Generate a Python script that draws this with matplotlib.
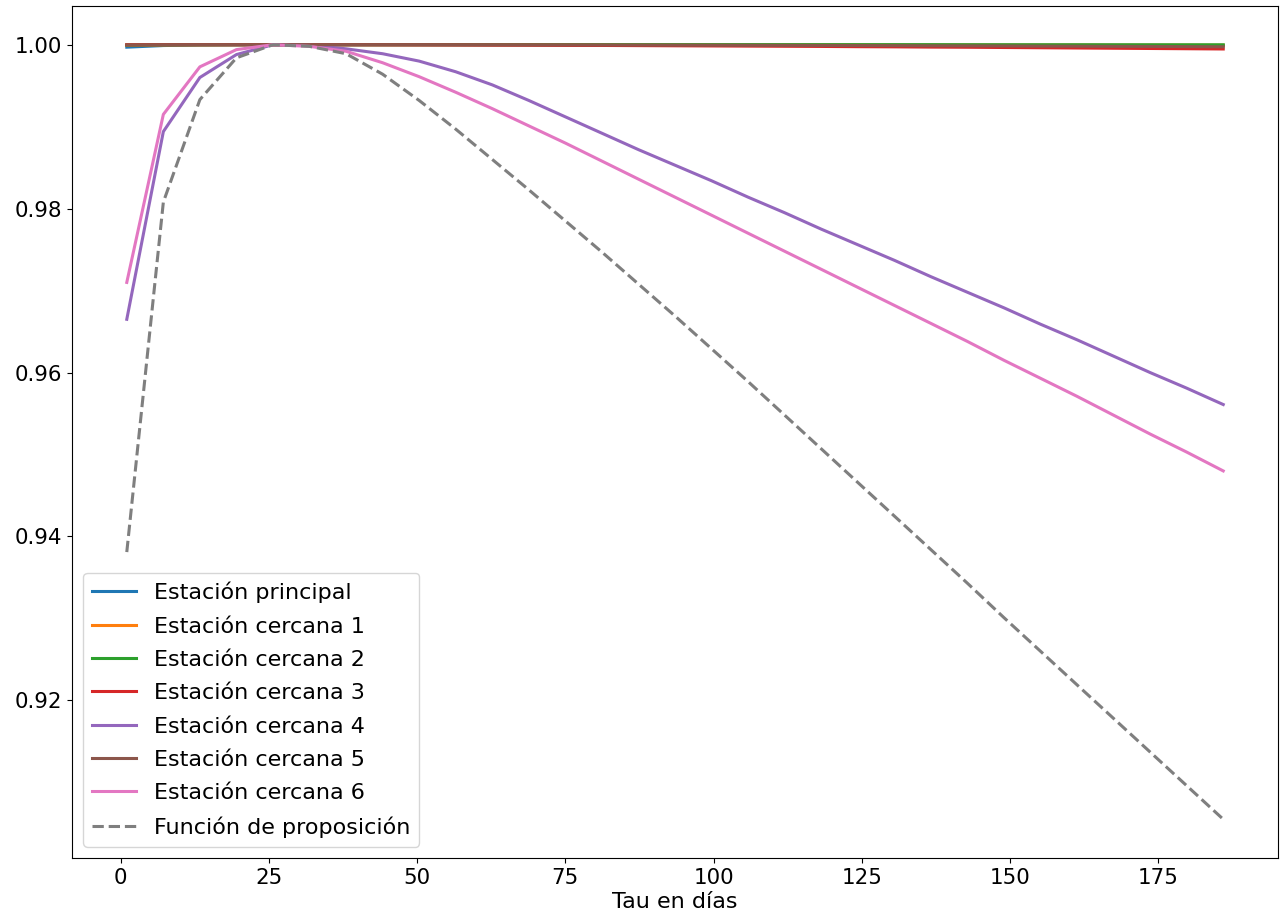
import matplotlib
matplotlib.use('Agg')
import matplotlib.pyplot as plt


# tau sampling (days)
tau = [1.0, 7.17, 13.33, 19.5, 25.67, 31.83, 38.0, 44.17, 50.33, 56.5,
       62.67, 68.83, 75.0, 81.17, 87.33, 93.5, 99.67, 105.83, 112.0, 118.17,
       124.33, 130.5, 136.67, 142.83, 149.0, 155.17, 161.33, 167.5, 173.67,
       179.83, 186.0]

principal = [0.9997, 0.9999, 0.99997, 0.99999, 1.0, 1.0, 1.0, 1.0, 1.0, 1.0,
             1.0, 1.0, 0.99999, 0.99999, 0.99999, 0.99998, 0.99998, 0.99998, 0.99997, 0.99997,
             0.99996, 0.99996, 0.99995, 0.99995, 0.99994, 0.99993, 0.99993, 0.99992, 0.99991,
             0.9999, 0.9999]
cercana_1 = [0.99995, 0.99998, 0.99999, 1.0, 1.0, 1.0, 1.0, 1.0, 1.0, 1.0,
             1.0, 1.0, 1.0, 0.99999, 0.99999, 0.99999, 0.99999, 0.99998, 0.99998, 0.99998,
             0.99998, 0.99997, 0.99997, 0.99997, 0.99996, 0.99996, 0.99996, 0.99995, 0.99995,
             0.99995, 0.99994]
cercana_2 = [0.99996, 0.99998, 0.99999, 1.0, 1.0, 1.0, 1.0, 1.0, 1.0, 1.0,
             1.0, 1.0, 1.0, 1.0, 1.0, 1.0, 1.0, 1.0, 1.0, 1.0,
             1.0, 1.0, 1.0, 0.99999, 0.99999, 0.99999, 0.99999, 0.99999, 0.99999,
             0.99999, 0.99999]
cercana_3 = [1.0, 1.0, 1.0, 1.0, 1.0, 1.0, 1.0, 0.99999, 0.99998, 0.99997,
             0.99995, 0.99994, 0.99992, 0.99991, 0.99989, 0.99987, 0.99985, 0.99983, 0.99981, 0.99979,
             0.99976, 0.99974, 0.99971, 0.99969, 0.99966, 0.99963, 0.9996, 0.99957, 0.99954,
             0.99951, 0.99948]
cercana_4 = [0.9665, 0.9894, 0.996, 0.9988, 1.0, 0.99995, 0.9995, 0.9989, 0.998, 0.9967,
             0.9951, 0.9932, 0.9912, 0.9892, 0.9872, 0.9853, 0.9834, 0.9814, 0.9795, 0.9775,
             0.9756, 0.9737, 0.9717, 0.9698, 0.9679, 0.9659, 0.964, 0.962, 0.96,
             0.9581, 0.9561]
cercana_5 = [0.99997, 0.99999, 1.0, 1.0, 1.0, 1.0, 1.0, 1.0, 1.0, 0.99999,
             0.99999, 0.99998, 0.99998, 0.99997, 0.99996, 0.99995, 0.99994, 0.99993, 0.99992, 0.99991,
             0.9999, 0.99989, 0.99987, 0.99986, 0.99985, 0.99983, 0.99982, 0.9998, 0.99979,
             0.99977, 0.99975]
cercana_6 = [0.971, 0.9915, 0.9973, 0.9994, 1.0, 0.9998, 0.9992, 0.9978, 0.9961, 0.9942,
             0.9922, 0.9901, 0.988, 0.9858, 0.9836, 0.9814, 0.9792, 0.977, 0.9748, 0.9726,
             0.9704, 0.9682, 0.966, 0.9638, 0.9615, 0.9593, 0.9571, 0.9548, 0.9525,
             0.9503, 0.948]
proposicion = [0.9381, 0.9808, 0.9933, 0.9984, 1.0, 0.9998, 0.9989, 0.9964, 0.9932, 0.9897,
               0.986, 0.9823, 0.9785, 0.9747, 0.9708, 0.9669, 0.9629, 0.9589, 0.9548, 0.9507,
               0.9466, 0.9425, 0.9384, 0.9343, 0.9301, 0.926, 0.9219, 0.9178, 0.9137,
               0.9096, 0.9055]

series = [
    ("Estación principal", principal),
    ("Estación cercana 1", cercana_1),
    ("Estación cercana 2", cercana_2),
    ("Estación cercana 3", cercana_3),
    ("Estación cercana 4", cercana_4),
    ("Estación cercana 5", cercana_5),
    ("Estación cercana 6", cercana_6),
]

plt.rcParams['font.size'] = 16

fig = plt.figure(figsize=(12.85, 9.21), dpi=100)
ax = fig.add_axes([0.056, 0.0684, 0.9386, 0.9251])

for label, values in series:
    ax.plot(tau, values, linewidth=2.2, label=label)
ax.plot(tau, proposicion, linestyle='--', linewidth=2.2, color='tab:gray',
        label="Función de proposición")

ax.tick_params(labelsize=15.4)
ax.set_xlabel("Tau en días", labelpad=3)
ax.legend(loc='lower left', labelspacing=0.6)

fig.savefig('out.png', dpi=100)
